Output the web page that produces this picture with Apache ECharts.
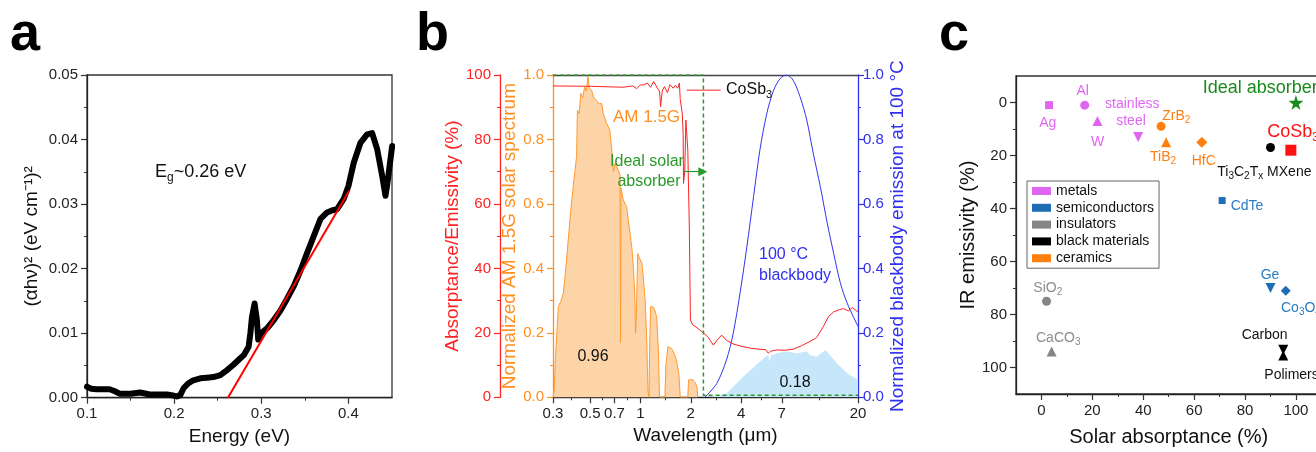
<!DOCTYPE html>
<html><head><meta charset="utf-8">
<script src="https://cdn.jsdelivr.net/npm/echarts@6/dist/echarts.min.js"></script>
<style>html,body{margin:0;padding:0;overflow:hidden;background:#fff}#c{width:1330px;height:452px}</style>
</head><body><div id="c"></div><script>
// ---------- Panel a data ----------
const energyA = [0.100,0.105,0.111,0.120,0.126,0.132,0.138,0.150,0.161,0.172,0.185,0.1916,0.197,0.203,0.207,0.211,0.216,0.222,0.230,0.2375,0.245,0.253,0.260,0.268,0.275,0.280,0.2855,0.2875,0.2893,0.2923,0.295,0.2965,0.298,0.300,0.307,0.3142,0.322,0.3295,0.337,0.345,0.352,0.3604,0.368,0.3755,0.381,0.387,0.3946,0.400,0.4061,0.4138,0.4214,0.4272,0.433,0.4387,0.4425,0.4445,0.4464,0.4502];
const absA = [0.0017,0.0014,0.0013,0.0013,0.0013,0.0010,0.0006,0.0006,0.0008,0.0005,0.0005,0.0005,0.0004,0.0002,0.0004,0.0015,0.0022,0.0027,0.0030,0.0031,0.0032,0.0035,0.0042,0.0051,0.0060,0.0066,0.0079,0.0100,0.0125,0.0146,0.0120,0.0090,0.0095,0.0100,0.0108,0.0120,0.0135,0.0153,0.0172,0.0197,0.0222,0.0251,0.0277,0.0287,0.0290,0.0292,0.0308,0.0328,0.0364,0.0395,0.0408,0.0410,0.0385,0.0344,0.0313,0.0330,0.0350,0.0390];
const fitEnergy = [0.2617, 0.401];
const fitAbs = [0, 0.0321];
const energyTicks = [0.1, 0.2, 0.3, 0.4];
const energyMinor = [0.15, 0.25, 0.35];

// ---------- Panel b data (wavelength in µm) ----------
const wlCoSb3 = [0.3,0.5,0.79,0.9,0.95,1.0,1.04,1.1,1.15,1.2,1.22,1.26,1.3,1.32,1.35,1.39,1.45,1.5,1.57,1.62,1.67,1.71,1.73,1.78,1.80,1.81,1.84,1.87,1.92,1.96,1.99,2.02,2.05,2.15,2.26,2.4,2.55,2.73,2.85,3.06,3.27,3.6,4.11,4.6,5.18,5.6,5.81,6.0,6.53,7.3,8.18,9.2,10.3,11.3,12.4,13.3,14.3,15.5,16.4,17.5,18.5,20];
const absCoSb3 = [96.6,96.5,96.2,96.6,95.8,96.9,96.9,97.5,96.2,98.0,98.4,96.0,95.0,90.2,95.0,96.4,94.5,97.0,95.9,96.8,95.9,97.5,92.4,88.0,81.9,66.4,70.0,86.0,76.7,52.9,24.0,23.5,22.5,21.8,20.9,19.9,18.5,16.2,17.5,19.3,17.7,16.5,15.7,15.2,14.9,14.8,13.7,14.3,14.7,14.6,14.9,16.0,17.3,18.5,21.9,25.0,26.5,27.2,27.5,26.8,27.8,26.5];
const wlSolar = [0.3,0.305,0.31,0.323,0.335,0.346,0.358,0.37,0.383,0.396,0.405,0.415,0.42,0.43,0.44,0.452,0.464,0.475,0.486,0.495,0.51,0.525,0.546,0.565,0.586,0.6,0.628,0.656,0.68,0.69,0.704,0.72,0.737,0.755,0.76,0.765,0.79,0.81,0.827,0.845,0.866,0.89,0.907,0.925,0.935,0.945,0.963,0.99,1.02,1.045,1.067,1.09,1.11,1.125,1.135,1.15,1.19,1.22,1.25,1.28,1.30,1.40,1.42,1.46,1.5,1.53,1.58,1.64,1.7,1.73,1.92,1.94,2.0,2.06,2.12,2.18,2.2];
const solar = [0,0.02,0.12,0.281,0.30,0.323,0.40,0.488,0.58,0.654,0.66,0.747,0.891,0.88,0.943,0.93,0.964,0.95,0.995,0.96,0.953,0.93,0.922,0.91,0.912,0.88,0.85,0.829,0.747,0.70,0.726,0.715,0.705,0.69,0.17,0.65,0.612,0.60,0.59,0.55,0.51,0.46,0.405,0.32,0.20,0.25,0.446,0.43,0.416,0.36,0.302,0.18,0.02,0,0.15,0.281,0.281,0.27,0.25,0.15,0,0,0.10,0.157,0.155,0.152,0.14,0.116,0.07,0,0,0.054,0.055,0.054,0.045,0.033,0];
const wlBB = [2.43,2.86,3.27,3.59,3.94,4.33,4.75,5.18,5.7,6.26,6.88,7.5,8.18,9.0,9.88,10.8,11.9,13.1,14.3,15.7,17.3,20];
const bb = [0,0.043,0.116,0.199,0.323,0.467,0.623,0.767,0.881,0.953,0.99,1.0,0.984,0.933,0.86,0.757,0.654,0.54,0.447,0.354,0.29,0.22];
const wlBBabs = [2.6,3.27,4.11,5.18,5.81,5.9,6.05,6.53,7.5,8.6,9.9,10.3,11.3,12.8,13.4,15,17.3,20];
const bbAbs = [0,0.012,0.064,0.111,0.131,0.112,0.13,0.137,0.142,0.137,0.142,0.131,0.126,0.147,0.134,0.105,0.074,0.054];
const wlIdeal = [0.3, 2.38, 2.38, 20];
const idealAbs = [1, 1, 0.006, 0.006];
const wlTicks = [0.3, 0.5, 0.7, 1, 2, 4, 7, 20];
const wlMinor = [0.387, 0.592, 0.837, 1.414, 2.83, 5.29, 11.8];

// ---------- Panel c data ----------
const materials = ['Ag','Al','W','stainless steel','ZrB2','TiB2','HfC','Ti3C2Tx MXene','CoSb3','Ideal absorber','CdTe','Ge','Co3O4','SiO2','CaCO3','Carbon','Polimers'];
const materialClass = ['metals','metals','metals','metals','ceramics','ceramics','ceramics','black materials','CoSb3','ideal','semiconductors','semiconductors','semiconductors','insulators','insulators','black materials','black materials'];
const solarAbsorptance = [3,17,22,38,47,49,63,90,98,100,71,90,96,2,4,95,95];
const irEmissivity = [1,1,7,13,9,15,15,17,18,0,37,70,71,75,94,93.3,95.5];
const classes = ['metals','semiconductors','insulators','black materials','ceramics'];
const pctTicks = [0,20,40,60,80,100];
const pctMinor = [10,30,50,70,90];

// ---------- styles ----------
const F = 'Liberation Sans, Arial, sans-serif';
const RED = '#ff2222', ORANGE = '#ff8f1f', BLUE = '#3030f0', GREEN = '#2a992a';
const classColor = {metals:'#e066f2', semiconductors:'#1f6db5', insulators:'#858585', 'black materials':'#000000', ceramics:'#ff7f0e', CoSb3:'#ff1111', ideal:'#1a8a1a'};
const TRI_DOWN = 'path://M0,0 L10,0 L5,9 Z';
const STAR = 'path://M50,0 L61,35 L98,35 L68,57 L79,91 L50,70 L21,91 L32,57 L2,35 L39,35 Z';
const markerStyle = {Ag:['rect',8],Al:['circle',9],W:['triangle',10],'stainless steel':[TRI_DOWN,10],ZrB2:['circle',9],TiB2:['triangle',10],HfC:['diamond',11],'Ti3C2Tx MXene':['circle',9],CoSb3:['rect',11],'Ideal absorber':[STAR,15],CdTe:['rect',7],Ge:[TRI_DOWN,10],Co3O4:['diamond',10],SiO2:['circle',9],CaCO3:['triangle',10],Carbon:[TRI_DOWN,10],Polimers:['triangle',10]};

const lg = v => Math.log10(v);
const zip = (xs, ys, fx) => xs.map((x, i) => [fx ? fx(x) : x, ys[i]]);

function axisBase(color) {
  return {
    axisLine: {show: true, onZero: false, lineStyle: {color: color, width: 1.3}},
    axisTick: {show: true, length: 6, lineStyle: {color: color, width: 1.2}},
    axisLabel: {color: color, fontSize: 15, fontFamily: F, margin: 9},
    splitLine: {show: false},
    nameTextStyle: {color: color, fontSize: 19, fontFamily: F}
  };
}
function minorAxis(extra) {
  return Object.assign({
    type: 'value', axisLine: {show: false, onZero: false}, axisLabel: {show: false},
    splitLine: {show: false}, axisTick: {show: true, length: 3, lineStyle: {color: '#333', width: 1.1}}
  }, extra);
}

// text helper, "_{..}" = subscript
function txt(s, x, y, color, size, align) {
  const parts = s.split(/(_\{[^}]*\})/).filter(p => p.length);
  const t = parts.map(p => p.startsWith('_{') ? '{s|' + p.slice(2, -1) + '}' : '{n|' + p + '}').join('');
  return {type: 'text', x: x, y: y, silent: true, z: 100, style: {
    text: t, align: align || 'left', verticalAlign: 'middle', fill: color,
    rich: {
      n: {fontSize: size, fontFamily: F, fill: color, lineHeight: Math.round(size * 1.3)},
      s: {fontSize: Math.round(size * 0.68), fontFamily: F, fill: color, verticalAlign: 'bottom', lineHeight: Math.round(size * 0.68)}
    }}};
}
function letter(s, x) {
  return {type: 'text', x: x, y: 35, style: {text: s, font: 'bold 54px ' + F, fill: '#000', verticalAlign: 'middle'}};
}

// ---------- panel c series ----------
function cSeries(cls, name, showInLegend) {
  const data = [];
  materials.forEach((m, i) => {
    if (materialClass[i] === cls) {
      const st = markerStyle[m];
      data.push({name: m, value: [solarAbsorptance[i], irEmissivity[i]], symbol: st[0], symbolSize: st[1]});
    }
  });
  return {type: 'scatter', name: name, xAxisIndex: 4, yAxisIndex: 4, data: data,
    itemStyle: {color: classColor[cls], opacity: 1}, z: 5};
}

const chart = echarts.init(document.getElementById('c'), null, {renderer: 'canvas'});
const option = {
  animation: false,
  backgroundColor: '#fff',
  textStyle: {fontFamily: F},
  grid: [
    {left: 87, top: 75, width: 305, height: 322.7, show: true, borderColor: '#333', borderWidth: 1.3, backgroundColor: 'transparent'},
    {left: 553, top: 75, width: 305, height: 322.3, show: false},
    {left: 1016, top: 76, width: 305.4, height: 322, show: true, borderColor: '#333', borderWidth: 1.3, backgroundColor: 'transparent'}
  ],
  xAxis: [
    Object.assign(axisBase('#222'), {gridIndex: 0, type: 'value', position: 'bottom', min: 0.1, max: 0.45,
      axisLabel: {color: '#222', fontSize: 15, fontFamily: F, margin: 9, customValues: energyTicks, formatter: v => v.toFixed(1)},
      axisTick: {show: true, length: 6, customValues: energyTicks, lineStyle: {color: '#333', width: 1.2}},
      name: 'Energy (eV)', nameLocation: 'middle', nameGap: 30, nameTextStyle: {color: '#111', fontSize: 19, fontFamily: F}}),
    minorAxis({gridIndex: 0, position: 'bottom', min: 0.1, max: 0.45, axisTick: {show: true, length: 3, customValues: energyMinor, lineStyle: {color: '#333'}}}),
    Object.assign(axisBase('#222'), {gridIndex: 1, type: 'value', position: 'bottom', min: lg(0.3), max: lg(20),
      axisLabel: {color: '#222', fontSize: 15, fontFamily: F, margin: 9, customValues: wlTicks.map(lg), formatter: v => String(+Math.pow(10, v).toPrecision(3))},
      axisTick: {show: true, length: 6, customValues: wlTicks.map(lg), lineStyle: {color: '#333', width: 1.2}},
      name: 'Wavelength (μm)', nameLocation: 'middle', nameGap: 28, nameTextStyle: {color: '#111', fontSize: 19, fontFamily: F}}),
    minorAxis({gridIndex: 1, position: 'bottom', min: lg(0.3), max: lg(20), axisTick: {show: true, length: 3, customValues: wlMinor.map(lg), lineStyle: {color: '#333'}}}),
    Object.assign(axisBase('#222'), {gridIndex: 2, type: 'value', position: 'bottom', min: -10, max: 110,
      axisLabel: {color: '#222', fontSize: 15, fontFamily: F, margin: 9, customValues: pctTicks},
      axisTick: {show: true, length: 6, customValues: pctTicks, lineStyle: {color: '#333', width: 1.2}},
      name: 'Solar absorptance (%)', nameLocation: 'middle', nameGap: 33, nameTextStyle: {color: '#111', fontSize: 20, fontFamily: F}}),
    minorAxis({gridIndex: 2, position: 'bottom', min: -10, max: 110, axisTick: {show: true, length: 3, customValues: pctMinor, lineStyle: {color: '#333'}}}),
    {gridIndex: 1, type: 'value', position: 'top', min: 0, max: 1, axisLine: {show: true, onZero: false, lineStyle: {color: '#444', width: 1.3}},
      axisTick: {show: false}, axisLabel: {show: false}, splitLine: {show: false}}
  ],
  yAxis: [
    Object.assign(axisBase('#222'), {gridIndex: 0, type: 'value', position: 'left', min: 0, max: 0.05, interval: 0.01,
      axisLabel: {color: '#222', fontSize: 15, fontFamily: F, margin: 9, formatter: v => v.toFixed(2)},
      axisTick: {show: true, length: 6, lineStyle: {color: '#333', width: 1.2}},
      minorTick: {show: true, splitNumber: 2, length: 3, lineStyle: {color: '#333'}},
      name: '(αhν)² (eV cm⁻¹)²', nameLocation: 'middle', nameGap: 46, nameTextStyle: {color: '#111', fontSize: 19, fontFamily: F}}),
    Object.assign(axisBase(RED), {gridIndex: 1, type: 'value', position: 'left', offset: 53, min: 0, max: 100, interval: 20,
      minorTick: {show: true, splitNumber: 2, length: 3, lineStyle: {color: RED}},
      name: 'Absorptance/Emissivity (%)', nameLocation: 'middle', nameGap: 24}),
    Object.assign(axisBase(ORANGE), {gridIndex: 1, type: 'value', position: 'left', offset: 0, min: 0, max: 1, interval: 0.2,
      axisLabel: {color: ORANGE, fontSize: 15, fontFamily: F, margin: 9, formatter: v => v.toFixed(1)},
      minorTick: {show: true, splitNumber: 2, length: 3, lineStyle: {color: ORANGE}},
      name: 'Normalized AM 1.5G solar spectrum', nameLocation: 'middle', nameGap: 32}),
    Object.assign(axisBase(BLUE), {gridIndex: 1, type: 'value', position: 'right', offset: 0, min: 0, max: 1, interval: 0.2,
      axisLabel: {color: BLUE, fontSize: 15, fontFamily: F, margin: 5, formatter: v => v.toFixed(1)},
      minorTick: {show: true, splitNumber: 2, length: 3, lineStyle: {color: BLUE}},
      name: 'Normalized blackbody emission at 100 °C', nameLocation: 'middle', nameGap: 30}),
    Object.assign(axisBase('#222'), {gridIndex: 2, type: 'value', position: 'left', inverse: true, min: -10, max: 110,
      axisLabel: {color: '#222', fontSize: 15, fontFamily: F, margin: 9, customValues: pctTicks},
      axisTick: {show: true, length: 6, customValues: pctTicks, lineStyle: {color: '#333', width: 1.2}},
      name: 'IR emissivity (%)', nameLocation: 'middle', nameGap: 38, nameTextStyle: {color: '#111', fontSize: 20, fontFamily: F}}),
    minorAxis({gridIndex: 2, position: 'left', inverse: true, min: -10, max: 110, axisTick: {show: true, length: 3, customValues: pctMinor, lineStyle: {color: '#333'}}})
  ],
  legend: {
    data: classes, left: 1027, top: 181, orient: 'vertical', icon: 'rect', itemWidth: 19, itemHeight: 8, itemGap: 2.8,
    padding: [3, 5, 3, 5], borderColor: '#666', borderWidth: 1, selectedMode: false,
    textStyle: {fontSize: 14, color: '#111', fontFamily: F, lineHeight: 14}
  },
  series: [
    {type: 'line', xAxisIndex: 0, yAxisIndex: 0, data: zip(energyA, absA), symbol: 'none', smooth: false,
      lineStyle: {color: '#000', width: 6, join: 'round', cap: 'round'}, z: 2},
    {type: 'line', xAxisIndex: 0, yAxisIndex: 0, data: zip(fitEnergy, fitAbs), symbol: 'none',
      lineStyle: {color: '#ff0000', width: 2}, z: 3},

    {type: 'line', xAxisIndex: 2, yAxisIndex: 2, data: zip(wlSolar, solar, lg), symbol: 'none',
      lineStyle: {color: '#ff9a30', width: 1}, areaStyle: {color: '#fdd3a8', opacity: 1}, z: 1},
    {type: 'line', xAxisIndex: 2, yAxisIndex: 3, data: zip(wlBBabs, bbAbs, lg), symbol: 'none',
      lineStyle: {width: 0}, areaStyle: {color: '#c6e6fa', opacity: 1}, z: 1},
    {type: 'line', xAxisIndex: 2, yAxisIndex: 3, data: zip(wlBB, bb, lg), symbol: 'none', smooth: 0.3,
      lineStyle: {color: '#3333ee', width: 1}, z: 2},
    {type: 'line', xAxisIndex: 2, yAxisIndex: 1, data: zip(wlCoSb3, absCoSb3, lg), symbol: 'none',
      lineStyle: {color: RED, width: 1}, z: 3},
    {type: 'line', xAxisIndex: 2, yAxisIndex: 2, data: zip(wlIdeal, idealAbs, lg), symbol: 'none',
      lineStyle: {color: GREEN, width: 1.5, type: [4, 3]}, z: 4},
    {type: 'line', xAxisIndex: 2, yAxisIndex: 1, data: [[lg(1.89), 95.3], [lg(3.02), 95.3]], symbol: 'none',
      lineStyle: {color: RED, width: 1}, z: 3,
      markLine: {silent: true, symbol: ['none', 'triangle'], symbolSize: 9, label: {show: false},
        lineStyle: {color: GREEN, type: 'solid', width: 1.2},
        data: [[{coord: [lg(1.80), 70]}, {coord: [lg(2.36), 70]}]]}},

    cSeries('metals', 'metals'),
    cSeries('semiconductors', 'semiconductors'),
    cSeries('insulators', 'insulators'),
    cSeries('black materials', 'black materials'),
    cSeries('ceramics', 'ceramics'),
    cSeries('CoSb3', 'CoSb3 point'),
    cSeries('ideal', 'Ideal point')
  ],
  graphic: [
    letter('a', 10), letter('b', 416), letter('c', 939),
    txt('E_{g}~0.26 eV', 155, 172, '#111', 18),
    txt('AM 1.5G', 613, 117, ORANGE, 17),
    txt('CoSb_{3}', 726, 90, '#111', 16),
    txt('Ideal solar', 647, 162, GREEN, 16, 'center'),
    txt('absorber', 649, 182, GREEN, 16, 'center'),
    txt('100 °C', 759, 255, BLUE, 16),
    txt('blackbody', 759, 276, BLUE, 16),
    txt('0.96', 593, 357, '#111', 16, 'center'),
    txt('0.18', 795, 383, '#111', 16, 'center'),
    txt('Al', 1082.7, 91, classColor.metals, 14, 'center'),
    txt('Ag', 1047.7, 123, classColor.metals, 14, 'center'),
    txt('W', 1097.7, 142, classColor.metals, 14, 'center'),
    txt('stainless', 1132.3, 104.5, classColor.metals, 14, 'center'),
    txt('steel', 1131, 121, classColor.metals, 14, 'center'),
    txt('ZrB_{2}', 1162.3, 116, classColor.ceramics, 14),
    txt('TiB_{2}', 1150, 157, classColor.ceramics, 14),
    txt('HfC', 1191.7, 161, classColor.ceramics, 14),
    txt('Ti_{3}C_{2}T_{x} MXene', 1217.3, 172, '#111', 14),
    txt('Ideal absorber', 1202.7, 88.5, classColor.ideal, 18),
    txt('CoSb_{3}', 1267.3, 132, '#ff1111', 18),
    txt('CdTe', 1230.7, 206, '#2a7cc4', 14),
    txt('Ge', 1270, 275.5, '#2a7cc4', 14, 'center'),
    txt('Co_{3}O_{4}', 1281, 308.5, '#2a7cc4', 14),
    txt('SiO_{2}', 1033.3, 288.5, '#8c8c8c', 14),
    txt('CaCO_{3}', 1036, 338.5, '#8c8c8c', 14),
    txt('Carbon', 1241.7, 335, '#111', 14),
    txt('Polimers', 1264.3, 375, '#111', 14)
  ]
};
chart.setOption(option);
</script></body></html>
